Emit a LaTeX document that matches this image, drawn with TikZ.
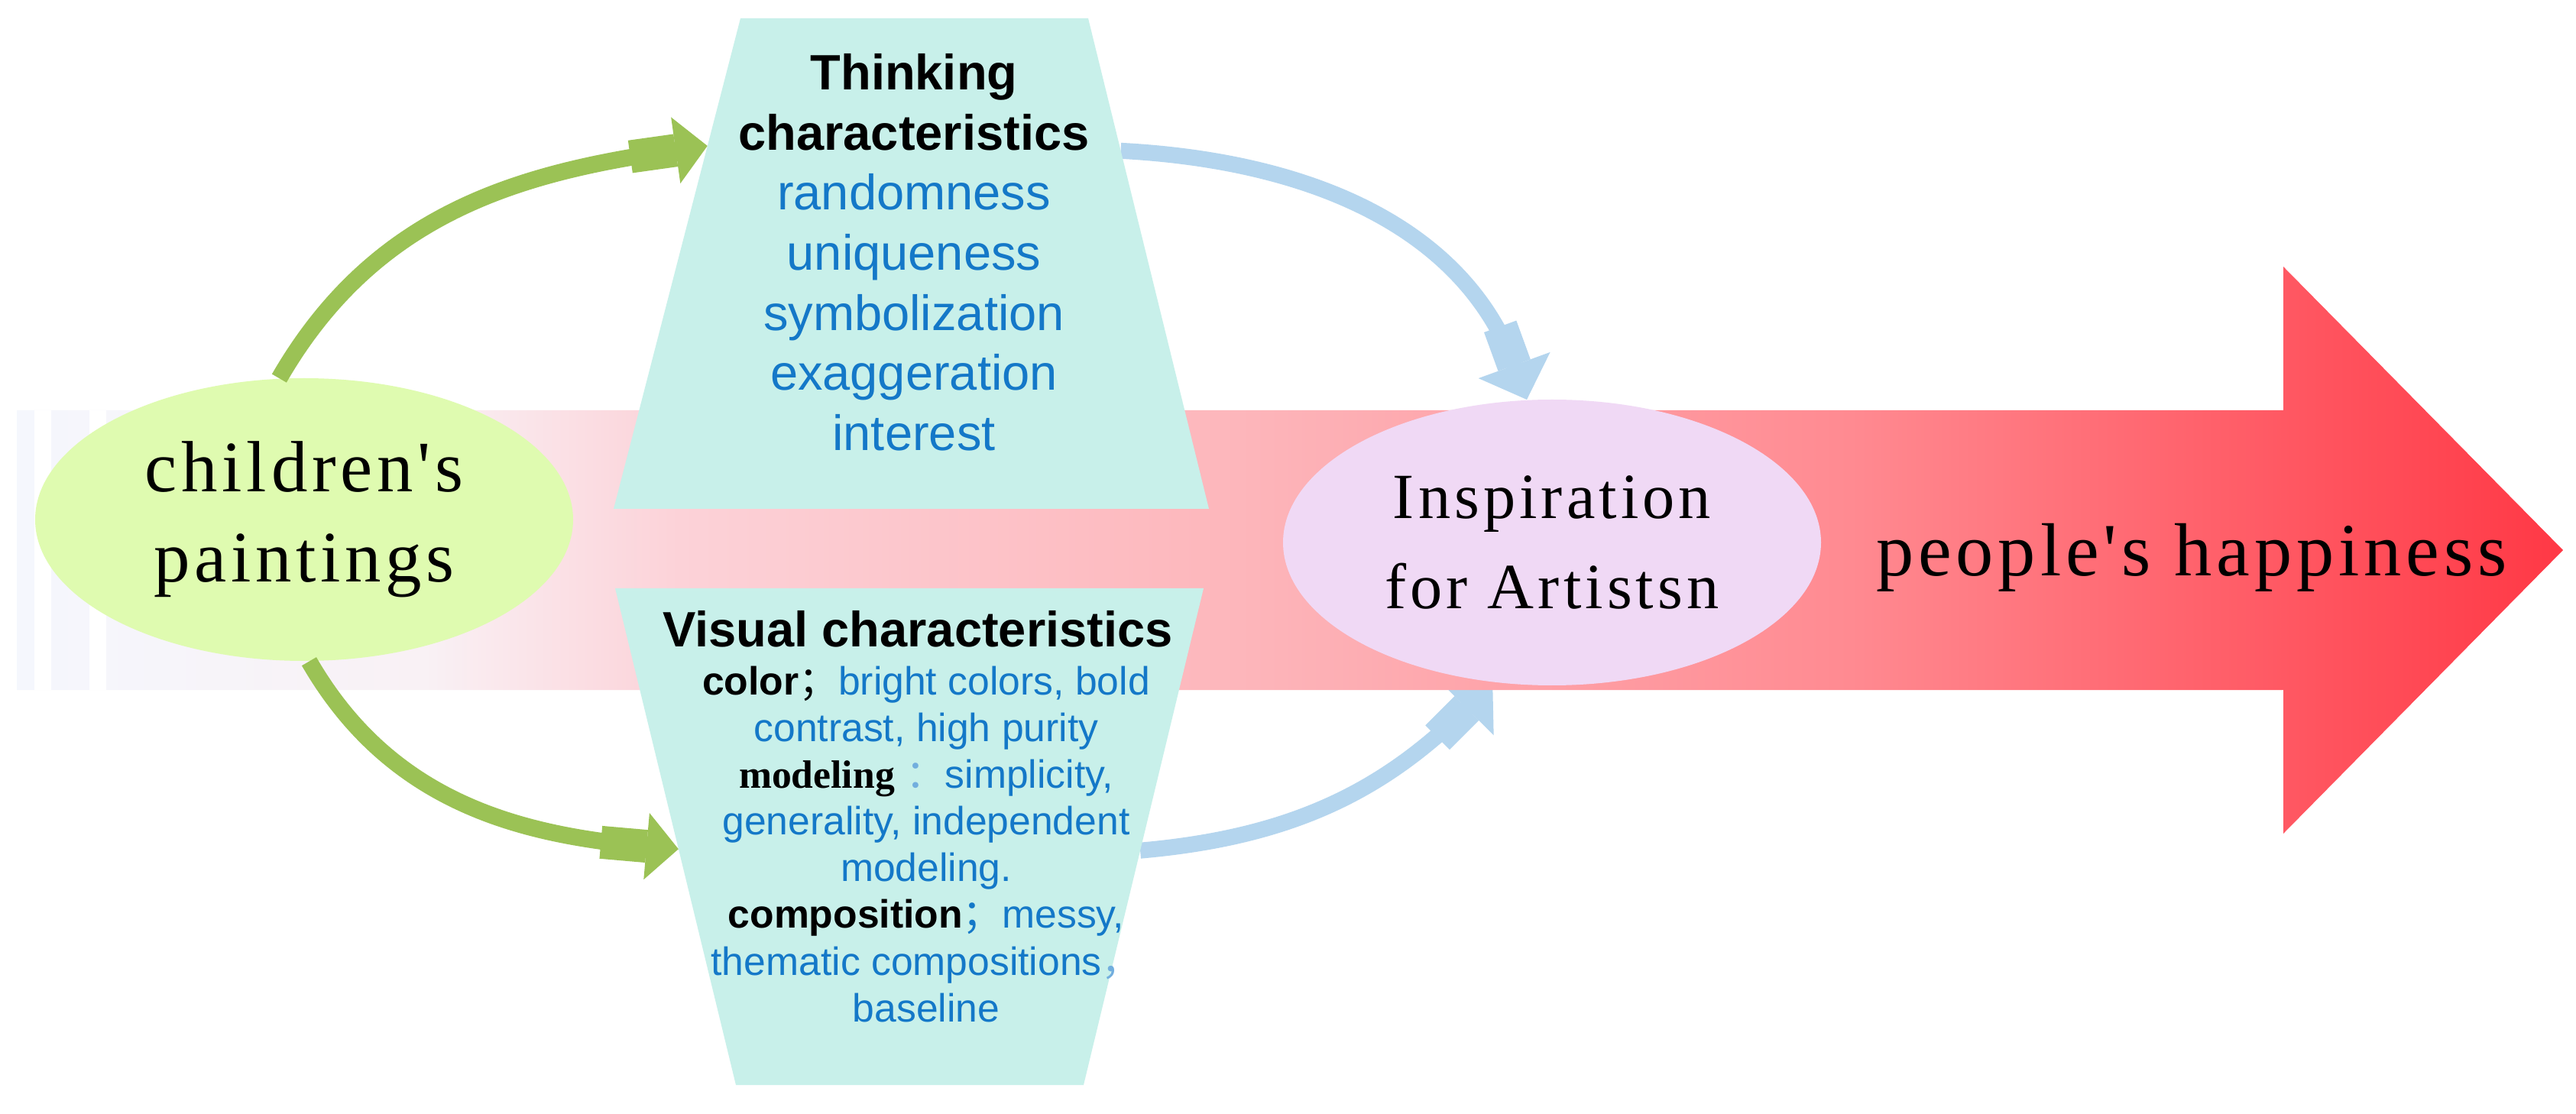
\documentclass[tikz,border=0pt]{standalone}
\usepackage{fontspec}
\setmainfont{Liberation Sans}
\newfontfamily\serifls{Liberation Serif}[LetterSpace=6]
\newfontfamily\serifn{Liberation Serif}
\newfontfamily\cjk{Noto Sans CJK SC}
\usetikzlibrary{positioning, arrows.meta, calc, shapes.geometric, backgrounds}
\definecolor{trap}{HTML}{C8F0EA}
\definecolor{kidsgreen}{HTML}{DFFBB0}
\definecolor{inspink}{HTML}{F0D9F5}
\definecolor{arcgreen}{HTML}{9BC255}
\definecolor{arcblue}{HTML}{B4D5EE}
\definecolor{txtblue}{HTML}{1478C8}
\definecolor{sh0}{HTML}{F5F7FD}\definecolor{sh1}{HTML}{F9F1F5}\definecolor{sh2}{HTML}{FCD2D8}
\definecolor{sh3}{HTML}{FDB6BB}\definecolor{sh4}{HTML}{FF8A91}\definecolor{sh5}{HTML}{FF3845}
\pgfdeclarehorizontalshading{happy}{100bp}{color(0bp)=(sh0); color(25bp)=(sh0); color(33bp)=(sh1);
  color(38bp)=(sh2); color(49bp)=(sh3); color(61bp)=(sh4); color(75bp)=(sh5); color(100bp)=(sh5)}

\begin{document}
\begin{tikzpicture}[
  ell/.style={ellipse,inner sep=0pt,align=center,minimum width=7.04cm},
  garc/.style={draw=arcgreen,line width=2.2mm,-{Rectangle[length=6mm,width=4.3mm]Triangle[length=4.2mm,width=8.5mm]}},
  barc/.style={draw=arcblue,line width=2.1mm,-{Rectangle[length=5.4mm,width=4.5mm]Triangle[length=4.8mm,width=9.7mm]}},
  big/.style={font=\serifls\fontsize{#1}{33.5}\selectfont}]
  \useasboundingbox (0,0) rectangle (33.71,14.57);
  % corners of the two trapezia
  \coordinate(t1)at(9.69,14.33);\coordinate(t2)at(14.24,14.33);\coordinate(t3)at(15.82,7.91);\coordinate(t4)at(8.03,7.91);
  \coordinate(v1)at(8.05,6.87);\coordinate(v2)at(15.75,6.87);\coordinate(v3)at(14.18,0.37);\coordinate(v4)at(9.63,0.37);
  \fill[trap](t1)--(t2)--(t3)--(t4)--cycle;
  \fill[trap](v1)--(v2)--(v3)--(v4)--cycle;
  \node[ell,big=27,minimum height=3.70cm,fill=kidsgreen](kids)at(3.98,7.77){children's\\paintings};
  \node[ell,big=24,minimum height=3.74cm,fill=inspink](insp)at(20.31,7.47){Inspiration\\for Artistsn};
  \node[big=28,anchor=base](happy)at(28.68,7.03){people's happiness};
  \draw[garc](kids.100)to[out=60,in=188]($(t1)!0.26!(t4)$);
  \draw[garc](kids.-88)to[out=-60,in=175]($(v1)!0.525!(v4)$);
  \node[font=\fontsize{18.5}{22.4}\selectfont,text=txtblue,align=center,anchor=north,inner sep=0pt](think)at(11.96,13.875)
    {{\color{black}\bfseries Thinking}\\{\color{black}\bfseries characteristics}\\randomness\\uniqueness\\symbolization\\exaggeration\\interest};
  \node[font=\bfseries\fontsize{18.5}{22.4}\selectfont,anchor=base,inner sep=0pt](vist)at(12.01,6.10){Visual characteristics};
  \node[font=\fontsize{14.7}{17.4}\selectfont,text=txtblue,align=center,anchor=north,inner sep=0pt](visb)at(12.12,5.86)
    {{\color{black}\bfseries color}{\color{black}\cjk ；}bright colors, bold\\contrast, high purity\\
     {\color{black}\serifn\bfseries modeling} {\color{txtblue!60}\cjk ：}simplicity,\\generality, independent\\modeling.\\
     {\color{black}\bfseries composition}{\cjk ；}messy,\\thematic compositions{\color{txtblue!60}\cjk ，}\\baseline};
  \begin{scope}[on background layer]
    \fill[white](0,0)rectangle(33.71,14.57);
    \draw[barc]($(t2)!0.27!(t3)$)to[out=-3,in=110](insp.100);
    \draw[barc]($(v2)!0.528!(v3)$)to[out=5,in=225](insp.-113);
    \shade[shading=happy](0.22,5.54)--(29.88,5.54)--(29.88,3.66)--(33.54,7.37)--(29.88,11.08)--(29.88,9.20)--(0.22,9.20)--cycle;
    \foreach \x in {0.45,1.17}\fill[white](\x,5.54)rectangle++(0.22,3.66);
  \end{scope}
\end{tikzpicture}
\end{document}
